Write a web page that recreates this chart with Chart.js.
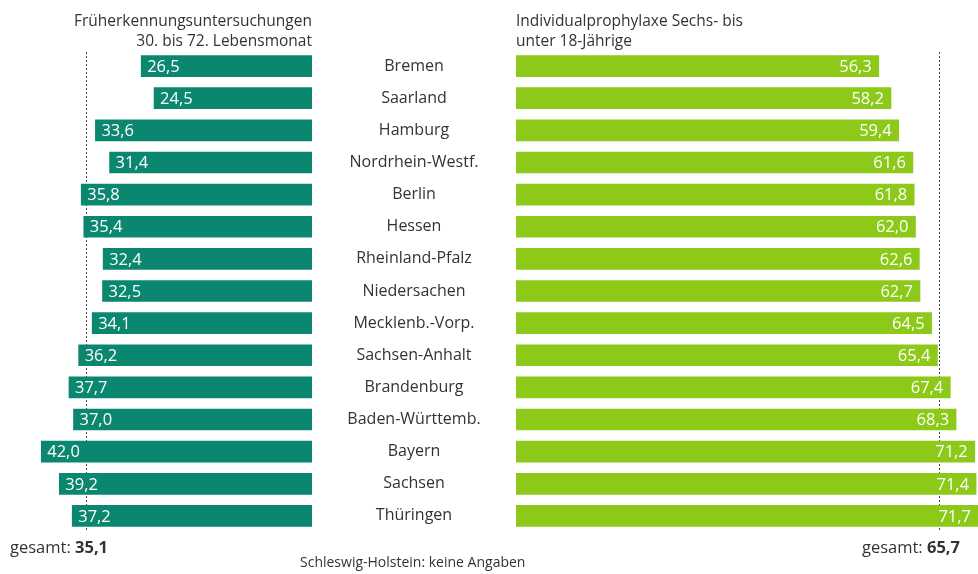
<!DOCTYPE html>
<html>
<head>
<meta charset="utf-8">
<script src="https://cdn.jsdelivr.net/npm/chart.js@4/dist/chart.umd.min.js"></script>
<style>
  body { margin: 0; background: #fff; font-family: "Open Sans", sans-serif; color: #333; }
  #wrap { position: relative; width: 978px; height: 574px; overflow: hidden; }
  canvas { position: absolute; top: 0; }
  .txt { position: absolute; font-size: 15.5px; line-height: 20px; color: #333; white-space: nowrap; }
</style>
</head>
<body>
<div id="wrap">
  <canvas id="left" width="312" height="574" style="left:0"></canvas>
  <canvas id="right" width="666" height="574" style="left:312px"></canvas>
  <div class="txt" style="right:666px; top:10px; text-align:right">Früherkennungsuntersuchungen<br>30. bis 72. Lebensmonat</div>
  <div class="txt" style="left:516px; top:10px">Individualprophylaxe Sechs- bis<br>unter 18-Jährige</div>
  <div class="txt" style="left:10px; top:537px; font-size:16.5px">gesamt: <b>35,1</b></div>
  <div class="txt" style="right:18px; top:537px; font-size:16.5px">gesamt: <b>65,7</b></div>
  <div class="txt" style="left:300px; top:552px; font-size:14px">Schleswig-Holstein: keine Angaben</div>
</div>
<script>
const states = ["Bremen", "Saarland", "Hamburg", "Nordrhein-Westf.", "Berlin", "Hessen",
  "Rheinland-Pfalz", "Niedersachen", "Mecklenb.-Vorp.", "Sachsen-Anhalt", "Brandenburg",
  "Baden-Württemb.", "Bayern", "Sachsen", "Thüringen"]
const frueh = [26.5, 24.5, 33.6, 31.4, 35.8, 35.4, 32.4, 32.5, 34.1, 36.2, 37.7, 37.0, 42.0, 39.2, 37.2]
const prophylaxe = [56.3, 58.2, 59.4, 61.6, 61.8, 62.0, 62.6, 62.7, 64.5, 65.4, 67.4, 68.3, 71.2, 71.4, 71.7]
const fruehTotal = 35.1
const prophylaxeTotal = 65.7

const fmt = (v) => v.toFixed(1).replace(".", ",")

const valueLabels = {
  id: 'valueLabels',
  afterDatasetsDraw(chart, args, opts) {
    const ctx = chart.ctx
    const meta = chart.getDatasetMeta(0)
    ctx.save()
    ctx.fillStyle = "white"
    ctx.font = "16.5px 'Open Sans', sans-serif"
    ctx.textBaseline = "middle"
    ctx.textAlign = opts.side === "left" ? "left" : "right"
    meta.data.forEach((bar, i) => {
      const value = chart.data.datasets[0].data[i]
      const x = opts.side === "left" ? bar.x + 6 : bar.x - 7
      ctx.fillText(fmt(value), x, bar.y + 1)
    })
    ctx.restore()
  }
}

// state names centred in the gap between the two bar blocks
const stateLabels = {
  id: 'stateLabels',
  afterDraw(chart) {
    const ctx = chart.ctx
    const y = chart.scales.y
    const cx = chart.chartArea.left / 2
    ctx.save()
    ctx.fillStyle = "#333"
    ctx.font = "16px 'Open Sans', sans-serif"
    ctx.textAlign = "center"
    ctx.textBaseline = "middle"
    chart.data.labels.forEach((label, i) => {
      ctx.fillText(label, cx, y.getPixelForTick(i))
    })
    ctx.restore()
  }
}

const totalLine = {
  id: 'totalLine',
  beforeDatasetsDraw(chart, args, opts) {
    const ctx = chart.ctx
    const x = Math.round(chart.scales.x.getPixelForValue(opts.value)) + 0.5
    ctx.save()
    ctx.strokeStyle = "#444"
    ctx.lineWidth = 1
    ctx.setLineDash([2, 2])
    ctx.beginPath()
    ctx.moveTo(x, 52)
    ctx.lineTo(x, 530)
    ctx.stroke()
    ctx.restore()
  }
}

const common = {
  indexAxis: 'y',
  responsive: false,
  animation: false,
  events: [],
  plugins: { legend: { display: false }, tooltip: { enabled: false } }
}

new Chart(document.getElementById("left"), {
  type: "bar",
  data: {
    labels: states,
    datasets: [{ data: frueh, backgroundColor: "#0b8770", barThickness: 21, borderWidth: 0 }]
  },
  options: {
    ...common,
    layout: { padding: { top: 50, bottom: 42, left: 0, right: 0 } },
    plugins: { ...common.plugins, valueLabels: { side: "left" }, totalLine: { value: fruehTotal } },
    scales: {
      x: { display: false, reverse: true, min: 0, max: 48.4 },
      y: { display: false }
    }
  },
  plugins: [totalLine, valueLabels]
})

new Chart(document.getElementById("right"), {
  type: "bar",
  data: {
    labels: states,
    datasets: [{ data: prophylaxe, backgroundColor: "#8cc919", barThickness: 21, borderWidth: 0 }]
  },
  options: {
    ...common,
    layout: { padding: { top: 50, bottom: 42, left: 204, right: 0 } },
    plugins: { ...common.plugins, valueLabels: { side: "right" }, totalLine: { value: prophylaxeTotal } },
    scales: {
      x: { display: false, min: 0, max: 71.7 },
      y: { display: false }
    }
  },
  plugins: [totalLine, valueLabels, stateLabels]
})
</script>
</body>
</html>
